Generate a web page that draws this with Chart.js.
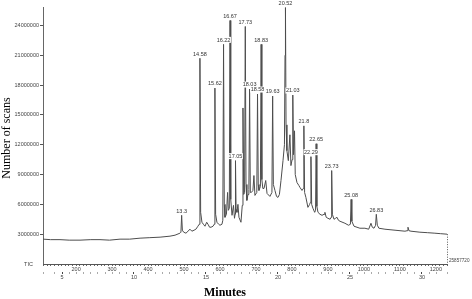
<!DOCTYPE html>
<html>
<head>
<meta charset="utf-8">
<script src="https://cdn.jsdelivr.net/npm/chart.js@4.4.1/dist/chart.umd.min.js"></script>
<style>
  html, body { margin: 0; padding: 0; background: #fff; }
  #wrap { width: 472px; height: 299px; }
</style>
</head>
<body>
<div id="wrap"><canvas id="tic" width="472" height="299"></canvas></div>
<script>
// Retention time (minutes) of each trace point
const times = [
  3.68, 4.20, 4.86, 5.50, 6.25, 7.00, 7.64, 8.30, 9.03, 9.70,
  10.42, 11.10, 11.81, 12.50, 12.85, 13.19, 13.26, 13.31, 13.36, 13.45,
  13.61, 13.75, 13.89, 14.02, 14.17, 14.30, 14.44, 14.53, 14.58, 14.63,
  14.72, 14.82, 14.93, 15.05, 15.14, 15.25, 15.35, 15.49, 15.57, 15.62,
  15.67, 15.76, 15.88, 15.97, 16.11, 16.17, 16.22, 16.27, 16.32, 16.42,
  16.50, 16.55, 16.62, 16.67, 16.72, 16.81, 16.91, 16.98, 17.02, 17.05,
  17.09, 17.15, 17.22, 17.29, 17.43, 17.52, 17.57, 17.62, 17.68, 17.73,
  17.78, 17.84, 17.92, 17.98, 18.03, 18.08, 18.15, 18.26, 18.33, 18.40,
  18.53, 18.58, 18.63, 18.68, 18.78, 18.83, 18.88, 18.95, 19.03, 19.15,
  19.24, 19.44, 19.58, 19.63, 19.68, 19.79, 19.90, 20.00, 20.10, 20.21,
  20.35, 20.45, 20.49, 20.52, 20.56, 20.62, 20.72, 20.83, 20.90, 20.98,
  21.03, 21.08, 21.15, 21.20, 21.32, 21.45, 21.53, 21.67, 21.76, 21.80,
  21.85, 21.94, 22.08, 22.20, 22.25, 22.29, 22.34, 22.43, 22.55, 22.61,
  22.65, 22.70, 22.78, 22.92, 23.06, 23.20, 23.26, 23.35, 23.47, 23.62,
  23.69, 23.73, 23.78, 23.89, 24.00, 24.10, 24.20, 24.31, 24.65, 24.90,
  25.03, 25.08, 25.13, 25.28, 25.69, 26.04, 26.30, 26.46, 26.55, 26.67,
  26.78, 26.83, 26.90, 27.01, 27.43, 28.13, 28.82, 28.97, 29.03, 29.10,
  29.24, 29.86, 30.40, 30.90, 31.30, 31.74
];

// Total ion count at each of those times
const counts = [
  2.50e6, 2.45e6, 2.45e6, 2.40e6, 2.40e6, 2.45e6, 2.45e6, 2.40e6, 2.50e6, 2.50e6,
  2.60e6, 2.65e6, 2.70e6, 2.80e6, 2.90e6, 3.10e6, 3.20e6, 4.90e6, 3.40e6, 3.20e6,
  3.10e6, 3.30e6, 3.50e6, 3.30e6, 3.40e6, 3.50e6, 3.80e6, 4.00e6, 20.70e6, 5.20e6,
  4.20e6, 4.00e6, 3.80e6, 4.20e6, 4.00e6, 3.70e6, 3.70e6, 3.80e6, 4.00e6, 17.70e6,
  5.00e6, 4.20e6, 4.00e6, 3.90e6, 4.00e6, 4.40e6, 22.10e6, 6.00e6, 4.70e6, 5.00e6,
  7.20e6, 5.40e6, 5.60e6, 24.50e6, 6.50e6, 4.90e6, 5.90e6, 4.60e6, 5.00e6, 10.40e6,
  5.50e6, 5.20e6, 6.00e6, 4.70e6, 4.20e6, 5.90e6, 15.70e6, 7.00e6, 7.20e6, 23.90e6,
  8.00e6, 6.40e6, 7.00e6, 7.50e6, 17.60e6, 7.20e6, 7.20e6, 7.40e6, 8.90e6, 6.90e6,
  7.20e6, 17.10e6, 8.00e6, 7.40e6, 7.80e6, 22.10e6, 8.50e6, 7.60e6, 7.60e6, 8.40e6,
  7.10e6, 6.80e6, 7.20e6, 16.90e6, 8.00e6, 7.40e6, 6.80e6, 6.70e6, 7.00e6, 8.40e6,
  10.40e6, 12.00e6, 21.00e6, 25.80e6, 14.00e6, 11.40e6, 10.40e6, 13.00e6, 9.90e6, 10.50e6,
  17.00e6, 11.00e6, 13.40e6, 9.00e6, 8.20e6, 7.90e6, 7.70e6, 7.40e6, 7.60e6, 13.90e6,
  7.20e6, 6.70e6, 5.70e6, 6.00e6, 6.20e6, 10.80e6, 6.00e6, 5.60e6, 5.20e6, 5.40e6,
  12.10e6, 5.80e6, 5.20e6, 5.00e6, 4.90e6, 5.00e6, 5.20e6, 4.70e6, 4.60e6, 4.50e6,
  4.70e6, 9.40e6, 5.00e6, 4.50e6, 4.60e6, 4.70e6, 4.40e6, 4.30e6, 4.10e6, 3.90e6,
  4.00e6, 6.50e6, 4.30e6, 3.80e6, 3.60e6, 3.60e6, 3.50e6, 4.10e6, 3.70e6, 3.60e6,
  3.90e6, 5.00e6, 3.90e6, 3.60e6, 3.50e6, 3.40e6, 3.30e6, 3.35e6, 3.70e6, 3.35e6,
  3.30e6, 3.20e6, 3.15e6, 3.10e6, 3.05e6, 3.00e6
];

// Annotated peaks (retention time and printed label)
const peakTimes = [13.31, 14.58, 15.62, 16.22, 16.67, 17.05, 17.73, 18.03, 18.58, 18.83,
  19.63, 20.52, 21.03, 21.80, 22.29, 22.65, 23.73, 25.08, 26.83];
const peakLabels = ['13.3', '14.58', '15.62', '16.22', '16.67', '17.05', '17.73', '18.03', '18.58', '18.83',
  '19.63', '20.52', '21.03', '21.8', '22.29', '22.65', '23.73', '25.08', '26.83'];

// Axis ranges and ticks
const yTicks = [0, 3000000, 6000000, 9000000, 12000000, 15000000, 18000000, 21000000, 24000000];
const minuteRange = [3.68, 31.74];
const scanRange = [108, 1231];
const scanLabelStep = 100;
const minuteLabelStep = 5;
const totalIonCount = 25857720;

const tickFont = { family: 'Liberation Sans', size: 5.5 };
const tickColor = '#444';

// Draws peak labels, axis titles and the end-of-trace marker
const annotations = {
  id: 'annotations',
  afterDraw(chart) {
    const { ctx, scales } = chart;
    const xs = scales.x;
    const ys = scales.y;
    ctx.save();
    ctx.font = '5.5px "Liberation Sans"';
    ctx.textAlign = 'center';
    ctx.textBaseline = 'bottom';
    peakTimes.forEach((t, i) => {
      let top = 0;
      times.forEach((tt, j) => {
        if (Math.abs(tt - t) < 0.03 && counts[j] > top) top = counts[j];
      });
      const px = xs.getPixelForValue(t);
      const py = ys.getPixelForValue(top) - 1.5;
      const w = ctx.measureText(peakLabels[i]).width;
      ctx.fillStyle = '#fff';
      ctx.fillRect(px - w / 2 - 0.5, py - 6, w + 1, 6);
      ctx.fillStyle = '#333';
      ctx.fillText(peakLabels[i], px, py);
    });

    // dotted drop line at end of trace and the full-scale value
    const last = times.length - 1;
    const ex = xs.getPixelForValue(times[last]);
    const ey = ys.getPixelForValue(counts[last]);
    ctx.strokeStyle = '#555';
    ctx.lineWidth = 1;
    ctx.setLineDash([1, 1.5]);
    ctx.beginPath();
    ctx.moveTo(ex + 0.5, ey);
    ctx.lineTo(ex + 0.5, ys.bottom);
    ctx.stroke();
    ctx.setLineDash([]);
    ctx.fillStyle = '#444';
    ctx.font = '4.6px "Liberation Sans"';
    ctx.textAlign = 'left';
    ctx.textBaseline = 'middle';
    ctx.fillText(String(totalIonCount), ex + 2, ys.bottom - 3);

    // axis titles
    ctx.fillStyle = '#000';
    ctx.font = 'bold 12px "Liberation Serif"';
    ctx.textAlign = 'center';
    ctx.textBaseline = 'middle';
    ctx.fillText('Minutes', 225, 293);
    ctx.font = '12px "Liberation Serif"';
    ctx.translate(7, 138);
    ctx.rotate(-Math.PI / 2);
    ctx.fillText('Number of scans', 0, 0);
    ctx.restore();
  }
};

const ctx = document.getElementById('tic').getContext('2d');
new Chart(ctx, {
  type: 'line',
  data: {
    datasets: [{
      label: 'TIC',
      data: times.map((t, i) => ({ x: t, y: counts[i] })),
      borderColor: '#4d4d4d',
      borderWidth: 1,
      pointRadius: 0,
      tension: 0,
      xAxisID: 'x',
      yAxisID: 'y'
    }]
  },
  options: {
    responsive: false,
    animation: false,
    layout: { padding: { left: 0, top: 7, right: 25, bottom: 15 } },
    plugins: { legend: { display: false }, tooltip: { enabled: false } },
    scales: {
      y: {
        type: 'linear',
        min: 0,
        max: totalIonCount,
        afterFit: s => { s.width = 43; },
        afterBuildTicks: s => { s.ticks = yTicks.map(v => ({ value: v })); },
        border: { color: '#666', width: 1 },
        grid: {
          drawOnChartArea: false,
          tickLength: 3,
          tickColor: c => (c.tick && c.tick.value > 0) ? '#555' : 'rgba(0,0,0,0)'
        },
        ticks: {
          autoSkip: false,
          padding: 1,
          font: tickFont,
          color: tickColor,
          callback: v => v === 0 ? 'TIC    ' : String(v)
        }
      },
      scan: {
        type: 'linear',
        position: 'bottom',
        weight: 1,
        min: scanRange[0],
        max: scanRange[1],
        afterFit: s => { s.height = 8; },
        border: { color: '#555', width: 1 },
        grid: {
          drawOnChartArea: false,
          tickLength: 2,
          tickColor: '#666'
        },
        ticks: {
          stepSize: 10,
          autoSkip: false,
          maxRotation: 0,
          padding: 0,
          font: tickFont,
          color: tickColor,
          callback: v => v % scanLabelStep === 0 ? String(v) : ''
        }
      },
      x: {
        type: 'linear',
        position: 'bottom',
        weight: 2,
        min: minuteRange[0],
        max: minuteRange[1],
        afterFit: s => { s.height = 12; },
        border: { display: false },
        grid: {
          drawOnChartArea: false,
          tickLength: 2,
          tickColor: c => (c.tick && c.tick.value % minuteLabelStep === 0) ? '#444' : '#aaa'
        },
        ticks: {
          stepSize: 0.5,
          autoSkip: false,
          maxRotation: 0,
          padding: 0,
          font: tickFont,
          color: tickColor,
          callback: v => v % minuteLabelStep === 0 ? String(v) : ''
        }
      }
    }
  },
  plugins: [annotations]
});
</script>
</body>
</html>
